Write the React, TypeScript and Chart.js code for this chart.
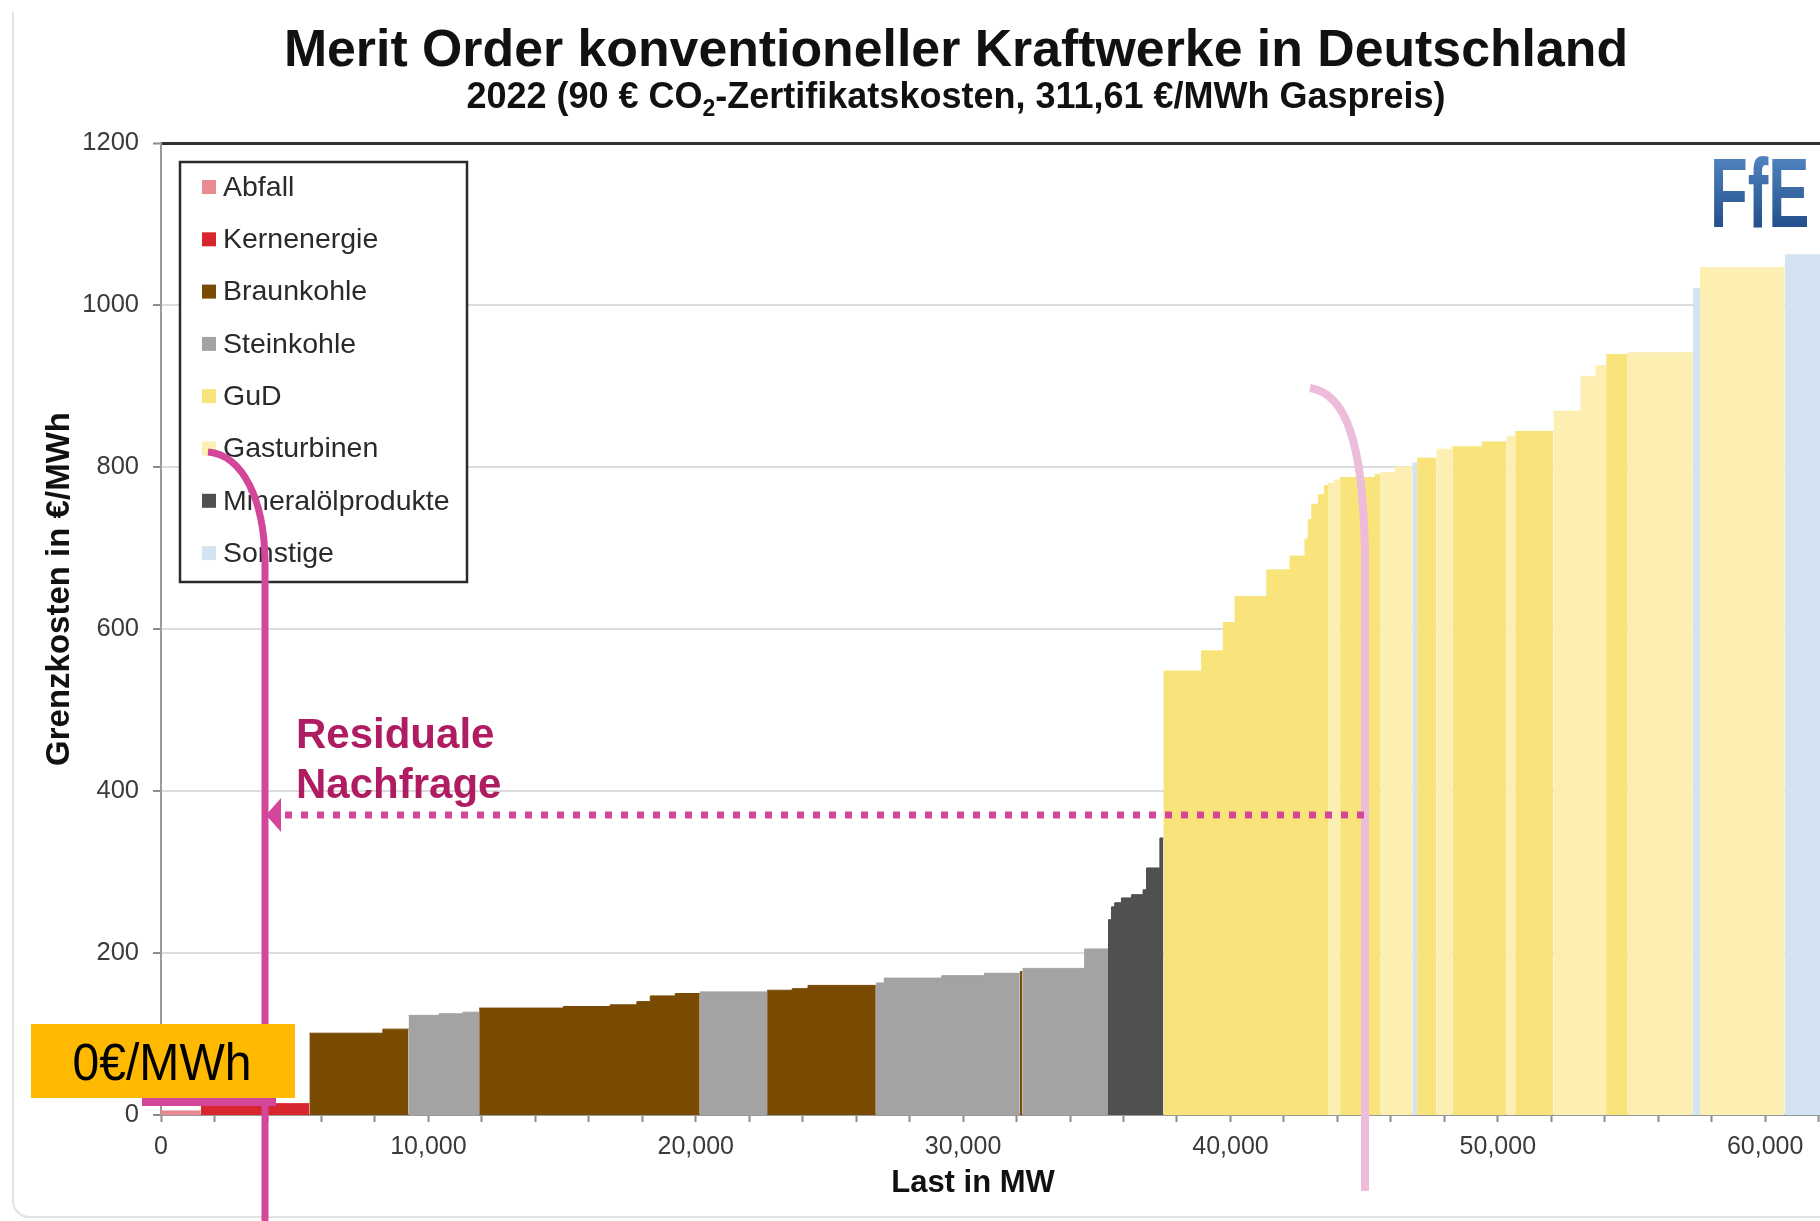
import React, { useEffect, useRef } from "react";
import { Chart, registerables } from "chart.js";

Chart.register(...registerables);

const FONT = "'Liberation Sans', Arial, Helvetica, sans-serif";

const chartTitle = "Merit Order konventioneller Kraftwerke in Deutschland";
const subtitleParts = ["2022 (90 € CO", "2", "-Zertifikatskosten, 311,61 €/MWh Gaspreis)"];
const xAxisTitle = "Last in MW";
const yAxisTitle = "Grenzkosten in €/MWh";

const categories = [
  "Abfall",
  "Kernenergie",
  "Braunkohle",
  "Steinkohle",
  "GuD",
  "Gasturbinen",
  "Mineralölprodukte",
  "Sonstige",
];
const categoryColors = [
  "#E88A90",
  "#D8262E",
  "#784A02",
  "#A3A3A3",
  "#F9E47B",
  "#FCEFB1",
  "#505050",
  "#D4E3F1",
];

// Merit order: start of each step (MW), marginal cost (€/MWh), category index
const stepStartMW = [
  0, 1490, 5550, 8300, 9260, 10400, 11300, 11900, 15050, 16800, 17800, 18300, 19235,
  20150, 22670, 23610, 24200, 26735, 27050, 29200, 30800, 32120, 32220, 34545,
  35420, 35550, 35670, 35920, 36300, 36730, 36860, 37360,
  37490, 38920, 39730, 40170, 41360, 42230, 42790, 42910, 43040, 43290, 43510,
  43650, 43900, 44100, 45420, 45620, 46170, 46800, 46980, 47700, 48300, 49420,
  50330, 50650, 52080, 53110, 53670, 54050, 54860, 57290, 57560, 60730,
];
const stepCostEurPerMWh = [
  5, 14, 101, 106, 123, 125, 127, 132, 134, 136, 140, 147, 150,
  152, 154, 156, 160, 163, 169, 172, 175, 177, 181, 205,
  241, 257, 262, 268, 272, 278, 305, 342,
  548, 573, 608, 640, 673, 690, 711, 735, 754, 766, 777,
  780, 784, 787, 791, 793, 800, 805, 811, 822, 825, 831,
  838, 844, 869, 912, 925, 939, 941, 1020, 1046, 1062,
];
const stepCategory = [
  0, 1, 2, 2, 3, 3, 3, 2, 2, 2, 2, 2, 2,
  3, 2, 2, 2, 3, 3, 3, 3, 2, 3, 3,
  6, 6, 6, 6, 6, 6, 6, 6,
  4, 4, 4, 4, 4, 4, 4, 4, 4, 4, 4,
  5, 5, 4, 4, 5, 5, 7, 4, 5, 4, 4,
  5, 4, 5, 5, 5, 4, 5, 7, 5, 7,
];
const totalLoadMW = 62050;

const yTickValues = [0, 200, 400, 600, 800, 1000, 1200];
const xLabelValues = [0, 10000, 20000, 30000, 40000, 50000, 60000];
const xMinorStepMW = 2000;

const annotationResidual = ["Residuale", "Nachfrage"];
const annotationPrice = "0€/MWh";
const logoText = "FfE";

function fmtThousands(v: number): string {
  return String(v).replace(/\B(?=(\d{3})+(?!\d))/g, ",");
}

function buildDatasets() {
  const sets: any[] = [];
  let i = 0;
  while (i < stepStartMW.length) {
    const cat = stepCategory[i];
    const pts: { x: number; y: number }[] = [];
    let j = i;
    while (j < stepStartMW.length && stepCategory[j] === cat) {
      const end = j + 1 < stepStartMW.length ? stepStartMW[j + 1] : totalLoadMW;
      pts.push({ x: stepStartMW[j], y: stepCostEurPerMWh[j] });
      pts.push({ x: end, y: stepCostEurPerMWh[j] });
      j++;
    }
    const color = categoryColors[cat];
    sets.push({
      label: categories[cat],
      data: pts,
      backgroundColor: color,
      borderColor: color,
      borderWidth: 1,
      fill: "origin",
      pointRadius: 0,
      pointHoverRadius: 0,
      tension: 0,
    });
    i = j;
  }
  return sets;
}

const overlayPlugin = {
  id: "overlayPlugin",
  beforeDraw(chart: any) {
    const ctx = chart.ctx;
    ctx.save();
    ctx.fillStyle = "#ffffff";
    ctx.fillRect(0, 0, chart.width, chart.height);
    // faint screenshot frame
    ctx.strokeStyle = "#e3e3e3";
    ctx.lineWidth = 2;
    ctx.beginPath();
    ctx.moveTo(13, 12);
    ctx.lineTo(13, 1200);
    ctx.arcTo(13, 1217, 30, 1217, 16);
    ctx.lineTo(1820, 1217);
    ctx.stroke();
    ctx.restore();
  },
  afterDraw(chart: any) {
    const ctx = chart.ctx;
    ctx.save();

    // Titles
    ctx.fillStyle = "#111111";
    ctx.textAlign = "center";
    ctx.textBaseline = "alphabetic";
    ctx.font = `bold 51.8px ${FONT}`;
    ctx.fillText(chartTitle, 956, 66);

    const mainFont = `bold 36px ${FONT}`;
    const subFont = `bold 23px ${FONT}`;
    ctx.font = mainFont;
    const w0 = ctx.measureText(subtitleParts[0]).width;
    const w2 = ctx.measureText(subtitleParts[2]).width;
    ctx.font = subFont;
    const w1 = ctx.measureText(subtitleParts[1]).width;
    let sx = 956 - (w0 + w1 + w2) / 2;
    ctx.textAlign = "left";
    ctx.font = mainFont;
    ctx.fillText(subtitleParts[0], sx, 108);
    sx += w0;
    ctx.font = subFont;
    ctx.fillText(subtitleParts[1], sx, 116);
    sx += w1;
    ctx.font = mainFont;
    ctx.fillText(subtitleParts[2], sx, 108);

    // Axis titles
    ctx.textAlign = "center";
    ctx.font = `bold 31px ${FONT}`;
    ctx.fillText(xAxisTitle, 973, 1192);
    ctx.save();
    ctx.translate(69, 589);
    ctx.rotate(-Math.PI / 2);
    ctx.font = `bold 33px ${FONT}`;
    ctx.fillText(yAxisTitle, 0, 0);
    ctx.restore();

    // Legend box
    const lx = 180, ly = 162, lw = 287, lh = 420;
    ctx.fillStyle = "#ffffff";
    ctx.fillRect(lx, ly, lw, lh);
    ctx.strokeStyle = "#2b2b2b";
    ctx.lineWidth = 2.5;
    ctx.strokeRect(lx, ly, lw, lh);
    ctx.font = `28.5px ${FONT}`;
    ctx.textBaseline = "middle";
    ctx.textAlign = "left";
    categories.forEach((c, i) => {
      const cy = 187 + i * 52.3;
      ctx.fillStyle = categoryColors[i];
      ctx.fillRect(202, cy - 7, 14, 14);
      ctx.fillStyle = "#2a2a2a";
      ctx.fillText(c, 223, cy + 1);
    });

    // Logo
    ctx.save();
    ctx.translate(1710, 227);
    ctx.scale(0.63, 1);
    const g = ctx.createLinearGradient(0, -70, 0, 0);
    g.addColorStop(0, "#4F82BE");
    g.addColorStop(1, "#23508C");
    ctx.fillStyle = g;
    ctx.font = `bold 98px ${FONT}`;
    ctx.textBaseline = "alphabetic";
    ctx.fillText(logoText, 0, 0);
    ctx.restore();

    // Magenta demand line
    const magenta = "#D4469A";
    ctx.strokeStyle = magenta;
    ctx.lineWidth = 7;
    ctx.lineCap = "butt";
    ctx.beginPath();
    ctx.moveTo(208, 452);
    ctx.bezierCurveTo(243, 455, 264, 500, 265, 560);
    ctx.lineTo(265, 1221);
    ctx.stroke();
    ctx.lineWidth = 8;
    ctx.beginPath();
    ctx.moveTo(142, 1102);
    ctx.lineTo(276, 1102);
    ctx.stroke();

    // light pink line
    ctx.strokeStyle = "#EDBCDB";
    ctx.lineWidth = 8;
    ctx.beginPath();
    ctx.moveTo(1310, 388);
    ctx.bezierCurveTo(1345, 393, 1364, 440, 1365, 560);
    ctx.lineTo(1365, 1191);
    ctx.stroke();

    // dotted arrow
    ctx.strokeStyle = magenta;
    ctx.lineWidth = 7;
    ctx.setLineDash([7, 9]);
    ctx.beginPath();
    ctx.moveTo(285, 815);
    ctx.lineTo(1365, 815);
    ctx.stroke();
    ctx.setLineDash([]);
    ctx.fillStyle = magenta;
    ctx.beginPath();
    ctx.moveTo(266, 815);
    ctx.lineTo(281, 798);
    ctx.lineTo(281, 832);
    ctx.closePath();
    ctx.fill();

    // Orange price box
    ctx.fillStyle = "#FFB900";
    ctx.fillRect(31, 1024, 264, 74);
    ctx.save();
    ctx.translate(162, 1080);
    ctx.scale(0.925, 1);
    ctx.fillStyle = "#000000";
    ctx.font = `52px ${FONT}`;
    ctx.textAlign = "center";
    ctx.textBaseline = "alphabetic";
    ctx.fillText(annotationPrice, 0, 0);
    ctx.restore();

    // Residual demand text
    ctx.fillStyle = "#B01C62";
    ctx.font = `bold 42px ${FONT}`;
    ctx.textAlign = "left";
    ctx.textBaseline = "alphabetic";
    ctx.fillText(annotationResidual[0], 296, 748);
    ctx.fillText(annotationResidual[1], 296, 798);

    ctx.restore();
  },
};

export default function App() {
  const ref = useRef<HTMLCanvasElement | null>(null);
  useEffect(() => {
    if (!ref.current) return;
    const chart = new Chart(ref.current, {
      type: "line",
      data: { datasets: buildDatasets() },
      options: {
        responsive: false,
        animation: false,
        devicePixelRatio: 1,
        events: [],
        layout: { autoPadding: false, padding: { top: 143, left: 0, right: 0, bottom: 0 } },
        plugins: {
          legend: { display: false },
          title: { display: false },
          tooltip: { enabled: false },
        },
        scales: {
          x: {
            type: "linear",
            min: 0,
            max: totalLoadMW,
            afterBuildTicks: (s: any) => {
              const t = [];
              for (let v = 0; v <= totalLoadMW; v += xMinorStepMW) t.push({ value: v });
              s.ticks = t;
            },
            afterFit: (s: any) => {
              s.height = 106;
              s.paddingRight = 0;
              s.paddingLeft = 0;
            },
            grid: {
              drawOnChartArea: false,
              drawTicks: true,
              tickLength: 7,
              tickColor: "#8c8c8c",
              tickWidth: 2,
            },
            border: { color: "#9a9a9a", width: 2 },
            ticks: {
              autoSkip: false,
              maxRotation: 0,
              padding: 10,
              color: "#3a3a3a",
              font: { size: 25, family: FONT },
              callback: (v: any) => (xLabelValues.includes(Number(v)) ? fmtThousands(Number(v)) : ""),
            },
          },
          y: {
            min: 0,
            max: 1200,
            afterBuildTicks: (s: any) => {
              s.ticks = yTickValues.map((v) => ({ value: v }));
            },
            afterFit: (s: any) => {
              s.width = 161;
            },
            grid: {
              color: (c: any) =>
                c.tick && c.tick.value === 1200 ? "#333333" : c.tick && c.tick.value === 0 ? "#9a9a9a" : "#dcdcdc",
              lineWidth: (c: any) => (c.tick && c.tick.value === 1200 ? 3 : 2),
              tickLength: 8,
              tickColor: "#8c8c8c",
              tickWidth: 2,
            },
            border: { color: "#9a9a9a", width: 2 },
            ticks: {
              padding: 14,
              color: "#3a3a3a",
              font: { size: 25.5, family: FONT },
              callback: (v: any) => String(v),
            },
          },
        },
      } as any,
      plugins: [overlayPlugin],
    });
    return () => chart.destroy();
  }, []);

  return (
    <div style={{ position: "absolute", left: 0, top: 0, width: 1820, height: 1221 }}>
      <canvas ref={ref} width={1820} height={1221} style={{ display: "block", width: 1820, height: 1221 }} />
    </div>
  );
}
